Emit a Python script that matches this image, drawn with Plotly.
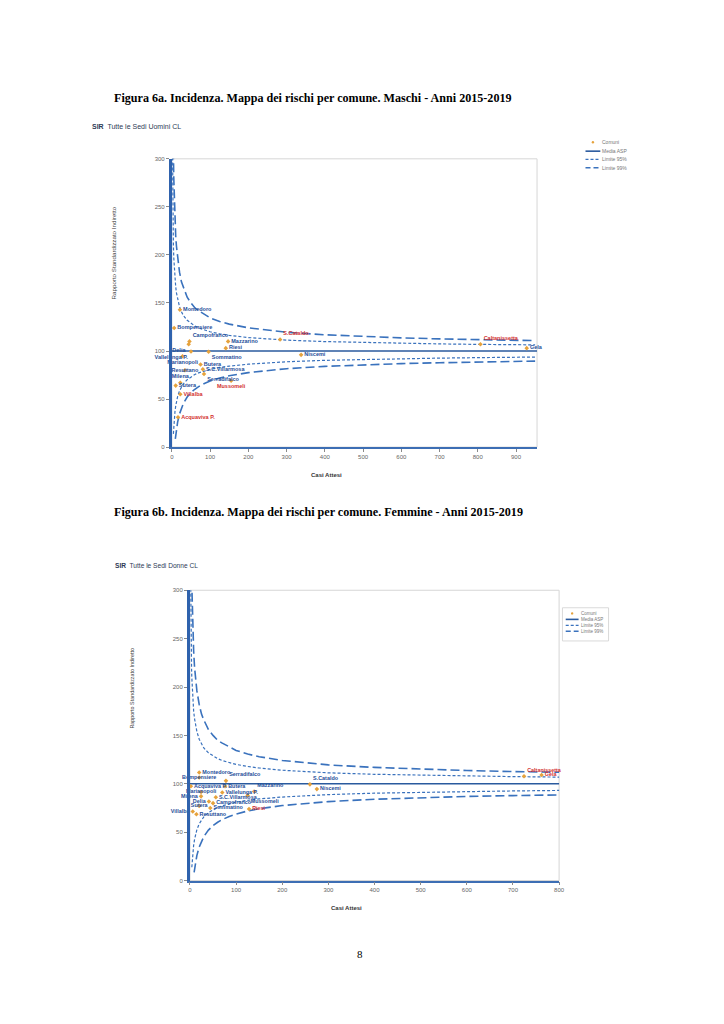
import plotly.graph_objects as go

# ---------------- data : Figura 6a (Maschi) ----------------
comuni_m = ["Montedoro", "Bompensiere", "Campofranco", "Delia", "Mazzarino", "Riesi",
            "S.Cataldo", "Niscemi", "Caltanissetta", "Gela", "Vallelunga P.", "Sommatino",
            "Marianopoli", "Butera", "Resuttano", "S.C.Villarmosa", "Serradifalco", "Milena",
            "Sutera", "Mussomeli", "Villalba", "Acquaviva P."]
attesi_m = [21, 6, 46, 44, 147, 141, 283, 338, 807, 928, 50, 96,
            28, 75, 34, 81, 84, 22, 10, 155, 22, 16]
sir_m = [143, 124, 110, 107, 110, 103, 112, 96, 107, 103, 99.5, 99.3,
         94.5, 86, 80, 81, 76, 67, 64, 69, 55, 31]
signif_m = [0, 0, 0, 0, 0, 0, 1, 0, 1, 0, 0, 0, 0, 0, 0, 0, 0, 0, 0, 1, 1, 1]

# ---------------- data : Figura 6b (Femmine) ----------------
comuni_f = ["Montedoro", "Bompensiere", "Serradifalco", "S.Cataldo", "Niscemi", "Caltanissetta",
            "Gela", "Acquaviva P.", "Butera", "Marianopoli", "Vallelunga P.", "Mazzarino",
            "Milena", "S.C.Villarmosa", "Mussomeli", "Riesi", "Delia", "Sutera",
            "Campofranco", "Sommatino", "Villalba", "Resuttano"]
attesi_f = [20, 20, 78, 260, 275, 724, 762, 2, 76, 24, 70, 139,
            24, 56, 125, 128, 41, 20, 50, 44, 6, 14]
sir_f = [111.7, 106.5, 103, 99.4, 94.5, 107.7, 109, 97.5, 97.5, 91.5, 91, 92,
         87, 86, 88, 74, 81.6, 77, 80, 75, 71.3, 68.5]
signif_f = [0, 0, 0, 0, 0, 1, 1, 0, 0, 0, 0, 0, 0, 0, 0, 1, 0, 0, 0, 0, 0, 0]

# ---------------- funnel limits ----------------
media_x = [0, 955]
media_y = [100, 100]
up_x = [1, 1.25, 1.5, 2, 2.5, 3, 3.5, 4, 5, 6, 7, 8, 10, 12, 15, 20, 25, 30, 40, 50, 60, 70,
        85, 100, 125, 150, 200, 250, 300, 400, 500, 600, 700, 800, 950]
up95 = [343, 313, 292, 262, 243, 229, 218, 210, 197, 188, 181, 175, 167, 160.5, 154, 146, 141,
        137, 132, 129, 126, 124, 121.8, 120, 117.9, 116.3, 114, 112.6, 111.3, 109.8, 108.8,
        108.0, 107.4, 106.9, 106.4]
up99 = [593, 525, 478, 414, 374, 345, 323, 305, 280, 262, 248, 237, 220, 209, 196, 182, 172,
        166, 156, 150, 145, 142, 138, 134.5, 130.7, 128, 124.1, 121.5, 119.5, 116.9, 115,
        113.7, 112.6, 111.8, 110.8]
lo95_x = [4, 5, 6, 7, 8, 10, 12, 15, 20, 25, 30, 40, 50, 60, 70, 85, 100, 125, 150, 200, 250,
          300, 400, 500, 600, 700, 800, 950]
lo95 = [13.8, 21.8, 27.9, 32.7, 36.6, 42.7, 47.3, 52.6, 58.6, 62.7, 65.8, 70.2, 73.2, 75.5,
        77.3, 79.3, 80.9, 82.9, 84.3, 86.3, 87.8, 88.8, 90.3, 91.3, 92.0, 92.6, 93.1, 93.7]
lo99_x = [9, 10, 12, 15, 20, 25, 30, 40, 50, 60, 70, 85, 100, 125, 150, 200, 250, 300, 400,
          500, 600, 700, 800, 950]
lo99 = [8.5, 12.4, 18.6, 26, 34.6, 40.7, 45.4, 52.1, 56.8, 60.2, 63, 66.2, 68.7, 71.9, 74.2,
        77.5, 79.9, 81.6, 84, 85.6, 86.9, 87.8, 88.6, 89.5]

legend_labels = ["Comuni", "Media ASP", "Limite 95%", "Limite 99%"]

# ---------------- label placement (style) ----------------
pos_m = ["middle right", "middle right", "top right", "bottom left", "middle right", "middle right",
         "top right", "middle right", "top right", "middle right", "bottom left", "bottom right",
         "bottom center", "middle right", "middle center", "middle right", "bottom right", "top center",
         "middle right", "bottom center", "middle right", "middle right"]
pos_f = ["middle right", "middle center", "top right", "top right", "middle right", "top right",
         "middle right", "middle right", "middle right", "middle center", "middle right", "top right",
         "middle left", "middle right", "bottom right", "middle right", "middle left", "middle center",
         "middle right", "middle right", "middle left", "middle right"]

# The page body has an 8px margin: the figure is placed inside it.
OFF = 8
W, H = 724 - OFF, 1024 - OFF
BLUE_AX = "#2f62ad"
BLUE_L = "#3a72bd"
BLUE_M = "#2a5a9e"
LBL_BLUE = "#1f4e99"
LBL_RED = "#d3302f"
PT = "#e6a23c"
FONT = "Liberation Sans, Arial, sans-serif"
SERIF = "Liberation Serif, Times New Roman, serif"


def px(v):
    return (v - OFF) / W


def py(v):
    return 1 - (v - OFF) / H


fig = go.Figure()


def add_chart(xr, yr, names, ex, sr, sig, pos, fsz):
    fig.add_trace(go.Scatter(x=media_x, y=media_y, mode="lines", xaxis=xr, yaxis=yr,
                             line=dict(color=BLUE_M, width=1.6), showlegend=False, hoverinfo="skip"))
    fig.add_trace(go.Scatter(x=up_x, y=up95, mode="lines", xaxis=xr, yaxis=yr,
                             line=dict(color=BLUE_L, width=1.2, dash="3px,2px"), showlegend=False))
    fig.add_trace(go.Scatter(x=lo95_x, y=lo95, mode="lines", xaxis=xr, yaxis=yr,
                             line=dict(color=BLUE_L, width=1.2, dash="3px,2px"), showlegend=False))
    fig.add_trace(go.Scatter(x=up_x, y=up99, mode="lines", xaxis=xr, yaxis=yr,
                             line=dict(color=BLUE_L, width=1.6, dash="9px,4px"), showlegend=False))
    fig.add_trace(go.Scatter(x=lo99_x, y=lo99, mode="lines", xaxis=xr, yaxis=yr,
                             line=dict(color=BLUE_L, width=1.6, dash="9px,4px"), showlegend=False))
    fig.add_trace(go.Scatter(x=ex, y=sr, mode="markers+text", xaxis=xr, yaxis=yr, text=names,
                             textposition=pos, cliponaxis=False,
                             textfont=dict(family=FONT, size=fsz, weight="bold",
                                           color=[LBL_RED if s else LBL_BLUE for s in sig]),
                             marker=dict(symbol="diamond", size=3.5, color=PT),
                             showlegend=False))


add_chart("x", "y", comuni_m, attesi_m, sir_m, signif_m, pos_m, 5.5)
add_chart("x2", "y2", comuni_f, attesi_f, sir_f, signif_f, pos_f, 5.4)

xcommon = dict(showgrid=False, zeroline=False, showline=True, linecolor="#3d6eb4", linewidth=1.5,
               ticks="outside", ticklen=3, tickcolor="#8a8a8a", dtick=100, tick0=0,
               tickfont=dict(family=FONT, size=6, color="#666666"))
ycommon = dict(showgrid=False, zeroline=False, showline=True, linecolor=BLUE_AX, linewidth=3,
               ticks="outside", ticklen=3, tickcolor="#8a8a8a", range=[0, 300], dtick=50, tick0=0,
               tickfont=dict(family=FONT, size=6, color="#666666"))

fig.update_layout(
    width=W, height=H, margin=dict(l=0, r=0, t=0, b=0),
    paper_bgcolor="white", plot_bgcolor="white", showlegend=False,
    xaxis=dict(domain=[px(171.7), px(541)], range=[0, 955], anchor="y", **xcommon),
    yaxis=dict(domain=[py(446.7), py(156.7)], anchor="x", **ycommon),
    xaxis2=dict(domain=[px(190), px(563.3)], range=[0, 800], anchor="y2", **xcommon),
    yaxis2=dict(domain=[py(882.7), py(590.7)], anchor="x2", **ycommon),
)

# plot-area borders
for xr, yr in (("x", "y"), ("x2", "y2")):
    fig.add_shape(type="rect", xref=f"{xr} domain", yref=f"{yr} domain", x0=0, x1=1, y0=0, y1=1,
                  line=dict(color="#d6d6d6", width=1), layer="below")


def ann(text, x, y, size, color="#333333", family=FONT, xanchor="center", textangle=0, bold=False):
    fig.add_annotation(text=f"<b>{text}</b>" if bold else text, x=px(x), y=py(y), xref="paper",
                       yref="paper", showarrow=False, xanchor=xanchor, yanchor="middle",
                       textangle=textangle, borderpad=0,
                       font=dict(family=family, size=size, color=color))


ann("Figura 6a. Incidenza. Mappa dei rischi per comune. Maschi - Anni 2015-2019", 112, 96, 12.1,
    "#000000", SERIF, "left", bold=True)
ann("Figura 6b. Incidenza. Mappa dei rischi per comune. Femmine - Anni 2015-2019", 112, 512, 12.1,
    "#000000", SERIF, "left", bold=True)
ann("<b>SIR</b>  Tutte le Sedi Uomini CL", 90, 124, 7, "#2e3a55", xanchor="left")
ann("<b>SIR</b>  Tutte le Sedi Donne CL", 113, 566, 6.6, "#2e3a55", xanchor="left")
ann("Rapporto Standardizzato Indiretto", 113, 251, 6.2, "#444444", textangle=-90)
ann("Rapporto Standardizzato Indiretto", 131, 689, 5.4, "#444444", textangle=-90)
ann("Casi Attesi", 328, 475, 6, "#333333", bold=True)
ann("Casi Attesi", 348, 910, 6, "#333333", bold=True)
ann("8", 362, 957, 11, "#000000", SERIF)


def legend(ys, lx0, lx1, tx, fsz, box=None):
    if box:
        fig.add_shape(type="rect", xref="paper", yref="paper", x0=px(box[0]), x1=px(box[2]),
                      y0=py(box[3]), y1=py(box[1]), line=dict(color="#d0d0d0", width=0.8))
    mx = (lx0 + lx1) / 2
    fig.add_shape(type="circle", xref="paper", yref="paper", x0=px(mx - 1.2), x1=px(mx + 1.2),
                  y0=py(ys[0] + 1.2), y1=py(ys[0] - 1.2), fillcolor=PT, line=dict(width=0))
    styles = [(BLUE_M, 1.6, "solid"), (BLUE_L, 1.2, "3px,2px"), (BLUE_L, 1.6, "5px,3px")]
    for yv, (c, w, d) in zip(ys[1:], styles):
        fig.add_shape(type="line", xref="paper", yref="paper", x0=px(lx0), x1=px(lx1),
                      y0=py(yv), y1=py(yv), line=dict(color=c, width=w, dash=d))
    for yv, t in zip(ys, legend_labels):
        ann(t, tx, yv, fsz, "#777777", xanchor="left")


legend([140, 149, 157.3, 165.7], 590, 605, 606, 5)
legend([614, 620, 626, 632], 570, 583, 584, 4.5, box=(566.7, 608.3, 613.3, 641.7))

fig.write_html("out.html")
